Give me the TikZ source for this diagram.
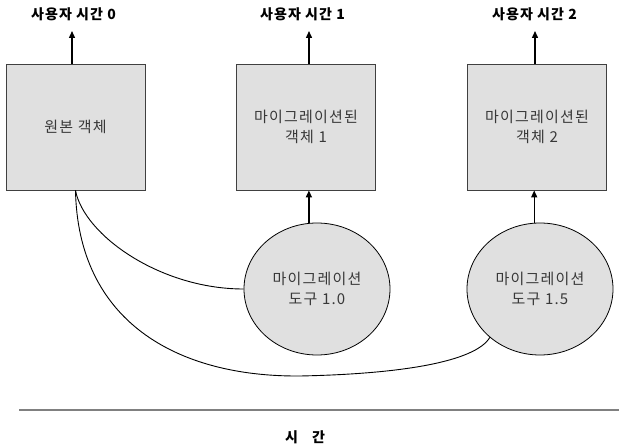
\documentclass[tikz,border=0pt]{standalone}
\usepackage{fontspec}
\setmainfont{Noto Sans CJK KR}
\newfontfamily\spacedkr[LetterSpace=8]{Noto Sans CJK KR}
\usetikzlibrary{shapes.geometric,arrows.meta,calc}
\definecolor{boxfill}{HTML}{E0E0E0}
\definecolor{boxline}{HTML}{404040}
\definecolor{txtgray}{HTML}{383838}
\tikzset{
  objbox/.style={draw=boxline, line width=0.9pt, fill=boxfill, minimum width=139pt, minimum height=126pt, inner sep=0pt, align=center, text=txtgray, font=\spacedkr\fontsize{15pt}{19.5pt}\selectfont},
  toolell/.style={ellipse, draw=black, line width=0.8pt, fill=boxfill, minimum width=146pt, minimum height=132pt, inner sep=0pt, align=center, text=txtgray, font=\spacedkr\fontsize{15pt}{20pt}\selectfont},
  userlbl/.style={font=\spacedkr\bfseries\fontsize{14pt}{16pt}\selectfont, inner sep=0pt},
  upArrow/.style={line width=1.4pt, -{Triangle[length=7pt,width=6pt]}},
  flow/.style={line width=0.9pt},
}
\begin{document}
\begin{tikzpicture}[x=1pt,y=-1pt]
\useasboundingbox (0,0) rectangle (619,446);
% boxes
\node[objbox] (b0) at (75.5,127) {원본 객체};
\node[objbox] (b1) at (306,127) {마이그레이션된\\객체 1};
\node[objbox] (b2) at (537,127) {마이그레이션된\\객체 2};
% labels
\node[userlbl] (l0) at (73.5,14) {사용자 시간 0};
\node[userlbl] (l1) at (302.5,14) {사용자 시간 1};
\node[userlbl] (l2) at (534.5,14) {사용자 시간 2};
\coordinate (t0) at (72,31);
\coordinate (t1) at (309,31);
\coordinate (t2) at (535,31);
\draw[upArrow] (b0.north -| t0) -- (t0);
\draw[upArrow] (b1.north -| t1) -- (t1);
\draw[upArrow] (b2.north -| t2) -- (t2);
% tools
\node[toolell] (e1) at (317,289) {마이그레이션\\도구 1.0};
\node[toolell] (e2) at (540,289) {마이그레이션\\도구 1.5};
\draw[upArrow] (e1.97) -- (e1.97 |- b1.south);
\draw[upArrow] (e2.95) -- (e2.95 |- b2.south);
% curves
\draw[flow] (b0.south) .. controls (84,235) and (160,289) .. (e1.west);
\draw[flow] (b0.south) .. controls (78,320) and (175,377) .. (300,376)
  .. controls (400,374) and (475,362) .. (e2.-136);
% time axis
\coordinate (axL) at (19,410);
\coordinate (axR) at (619,410);
\draw[line width=1.3pt, draw=gray] (axL) -- (axR);
\node[userlbl] (tm) at (305,437) {시\hspace{1em}간};
\end{tikzpicture}
\end{document}
